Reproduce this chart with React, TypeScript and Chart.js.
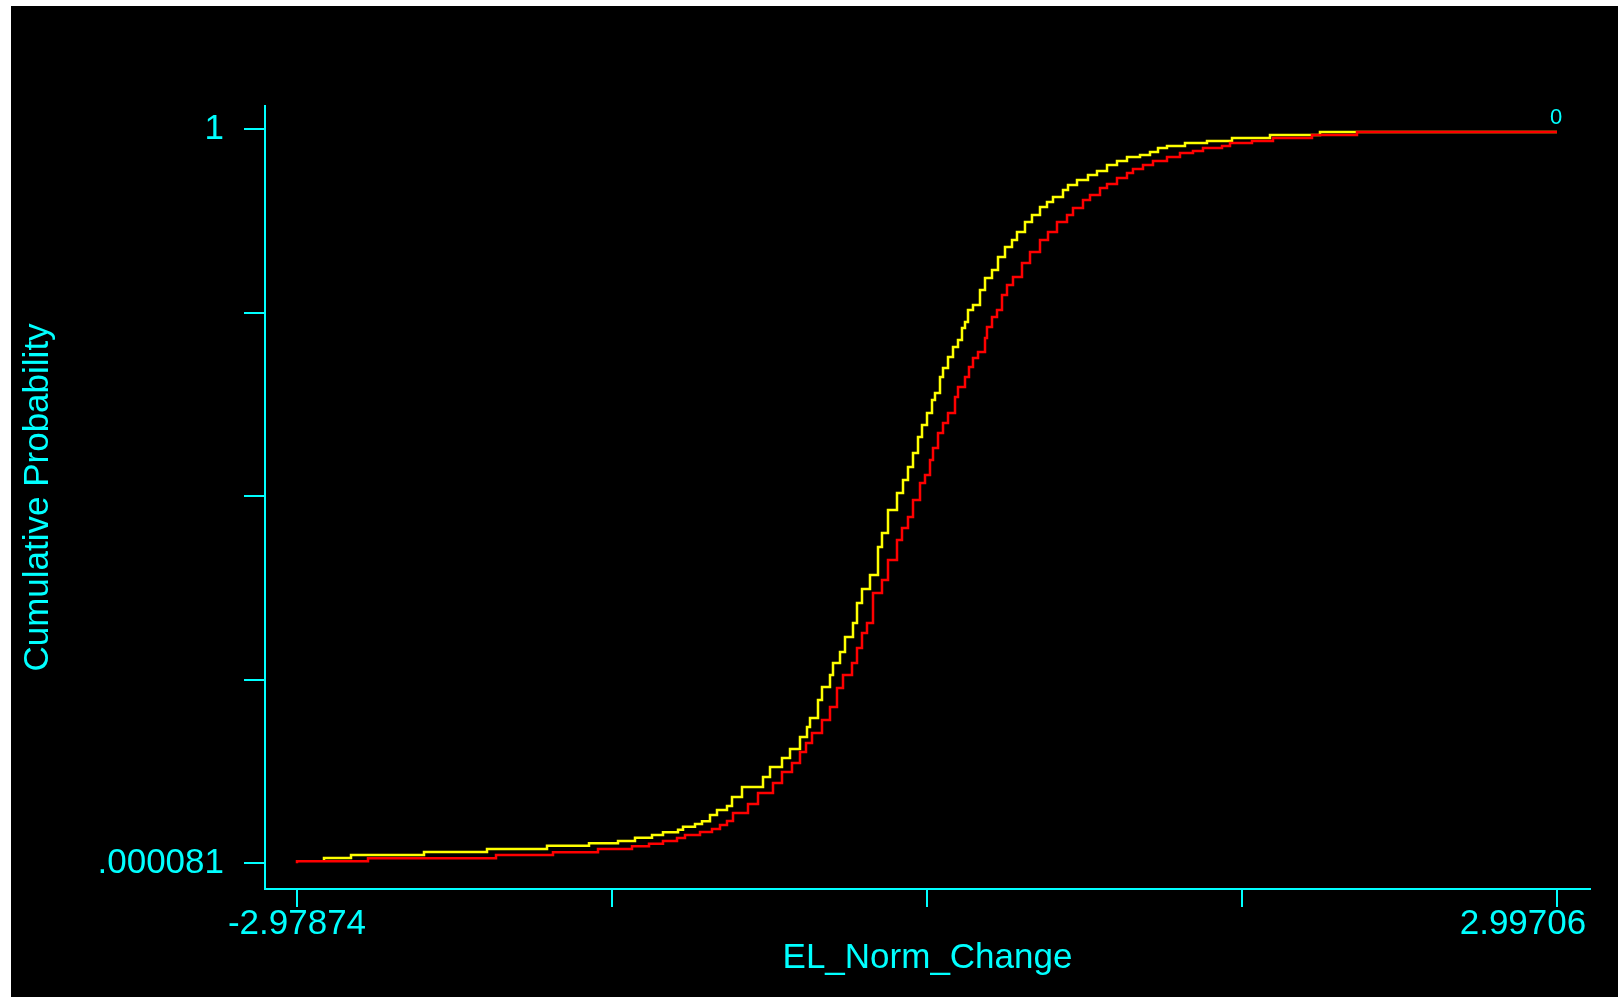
import React, { useEffect, useRef } from 'react';
import { Chart, registerables } from 'chart.js';

Chart.register(...registerables);

// ---- data ----
const RED_X = [
  -2.97874, -2.642, -2.0349, -1.7646, -1.5512, -1.3899, -1.3093, -1.2429, -1.1765, -1.1386,
  -1.0674, -1.0105, -0.9726, -0.9394, -0.9109, -0.8398, -0.7923, -0.7212, -0.6785, -0.6311,
  -0.5932, -0.5647, -0.5362, -0.4888, -0.4509, -0.4177, -0.3892, -0.3465, -0.3228, -0.2991,
  -0.2754, -0.2469, -0.2043, -0.1758, -0.1331, -0.1094, -0.081, -0.0572, -0.024, -0.0003,
  0.0234, 0.0376, 0.0614, 0.0851, 0.1088, 0.142, 0.1562, 0.1894, 0.2083, 0.2273,
  0.2511, 0.2843, 0.2937, 0.3175, 0.3412, 0.3649, 0.3886, 0.417, 0.4597, 0.4977,
  0.5451, 0.583, 0.6257, 0.6732, 0.7016, 0.749, 0.7822, 0.8297, 0.8629, 0.9103,
  0.9577, 0.9861, 1.0336, 1.081, 1.1474, 1.209, 1.2707, 1.3182, 1.4083, 1.4462,
  1.5505, 1.6501, 1.8351, 2.0485, 2.3805, 2.99706,
];
const RED_Y = [
  0.000081, 0.0028, 0.0069, 0.0114, 0.0151, 0.0196, 0.0232, 0.0268, 0.0305, 0.0346,
  0.0386, 0.0427, 0.0468, 0.0523, 0.0577, 0.0686, 0.0809, 0.0959, 0.1095, 0.1245,
  0.1367, 0.1517, 0.164, 0.1776, 0.1953, 0.213, 0.2389, 0.2566, 0.273, 0.2934,
  0.3139, 0.3275, 0.3684, 0.3861, 0.4133, 0.4406, 0.4569, 0.4719, 0.4951, 0.5182,
  0.5291, 0.5496, 0.5659, 0.5863, 0.6, 0.6136, 0.6354, 0.649, 0.6626, 0.6763,
  0.6885, 0.6967, 0.7158, 0.7308, 0.7444, 0.7539, 0.7744, 0.788, 0.7989, 0.8179,
  0.8329, 0.8493, 0.8602, 0.8738, 0.8833, 0.8929, 0.9038, 0.9106, 0.9201, 0.9256,
  0.9338, 0.9406, 0.946, 0.9515, 0.9569, 0.9624, 0.9678, 0.9705, 0.9746, 0.9773,
  0.9814, 0.9842, 0.9882, 0.9923, 0.9964, 0.9964,
];
const YELLOW_X = [
  -2.8507, -2.7226, -2.3764, -2.0776, -1.793, -1.5938, -1.4563, -1.3757, -1.295, -1.2429,
  -1.1717, -1.148, -1.0911, -1.0579, -1.02, -0.9868, -0.9394, -0.9156, -0.8682, -0.7686,
  -0.7354, -0.6785, -0.6405, -0.5932, -0.5599, -0.5457, -0.5078, -0.4888, -0.4509, -0.4366,
  -0.4034, -0.3797, -0.3418, -0.3228, -0.2991, -0.2612, -0.2232, -0.2043, -0.1758, -0.1331,
  -0.1046, -0.081, -0.0572, -0.0335, -0.0145, 0.0092, 0.0329, 0.0471, 0.0708, 0.0851,
  0.1088, 0.1325, 0.1562, 0.1751, 0.1894, 0.2036, 0.2273, 0.2605, 0.2843, 0.3175,
  0.3459, 0.3791, 0.4123, 0.436, 0.4739, 0.5071, 0.5451, 0.5783, 0.6067, 0.6542,
  0.6779, 0.7206, 0.7727, 0.8154, 0.8629, 0.9103, 0.9577, 1.0194, 1.0668, 1.1047,
  1.1474, 1.2327, 1.3371, 1.4557, 1.6359, 1.873, 2.262, 2.99706,
];
const YELLOW_Y = [
  0.0028, 0.0073, 0.0114, 0.0155, 0.0196, 0.0241, 0.0273, 0.0305, 0.035, 0.0386,
  0.0423, 0.0459, 0.05, 0.0536, 0.0573, 0.0659, 0.0727, 0.0782, 0.0904, 0.104,
  0.1177, 0.1313, 0.1435, 0.1558, 0.1722, 0.1858, 0.198, 0.2226, 0.2403, 0.2566,
  0.273, 0.288, 0.3084, 0.3275, 0.3547, 0.3738, 0.3929, 0.431, 0.4501, 0.4814,
  0.5046, 0.5223, 0.54, 0.5591, 0.5809, 0.5972, 0.6136, 0.6313, 0.6408, 0.6626,
  0.6749, 0.6899, 0.7035, 0.713, 0.7294, 0.7376, 0.7539, 0.7607, 0.7812, 0.7975,
  0.8084, 0.8261, 0.8397, 0.8493, 0.8602, 0.8738, 0.8833, 0.8942, 0.9011, 0.9079,
  0.9174, 0.9242, 0.931, 0.9378, 0.9433, 0.9515, 0.9569, 0.9624, 0.9651, 0.9692,
  0.9746, 0.9773, 0.9814, 0.9842, 0.9882, 0.9923, 0.9964, 0.9964,
];

const X_TICKS = [-2.97874, -1.48479, 0.00916, 1.50311, 2.99706];
const X_TICK_LABELS = ['-2.97874', '', '', '', '2.99706'];
const Y_TICKS = [0.000081, 0.25006, 0.50004, 0.75002, 1];
const Y_TICK_LABELS = ['.000081', '', '', '', '1'];
const X_TITLE = 'EL_Norm_Change';
const Y_TITLE = 'Cumulative Probability';
const END_LABEL = '0';
const X_RANGE = [-3.1305, 3.1536];
const Y_RANGE = [-0.0349, 1.0318];

const CYAN = '#00FFFF';
const FONT = '"Liberation Sans", Arial, sans-serif';

const endLabelPlugin = {
  id: 'endLabel',
  afterDatasetsDraw(chart: any) {
    const meta = chart.getDatasetMeta(0);
    const pts = meta.data;
    if (!pts || !pts.length) return;
    const last = pts[pts.length - 1];
    const ctx = chart.ctx;
    ctx.save();
    ctx.fillStyle = CYAN;
    ctx.font = `22px ${FONT}`;
    ctx.textAlign = 'center';
    ctx.textBaseline = 'bottom';
    ctx.fillText(END_LABEL, last.x - 1, last.y - 3);
    ctx.restore();
  },
};

export default function App() {
  const ref = useRef<HTMLCanvasElement | null>(null);

  useEffect(() => {
    if (!ref.current) return;
    const red = RED_X.map((x, i) => ({ x, y: RED_Y[i] }));
    const yellow = YELLOW_X.map((x, i) => ({ x, y: YELLOW_Y[i] }));
    const chart = new Chart(ref.current, {
      type: 'line',
      data: {
        datasets: [
          {
            data: red,
            borderColor: '#FF0000',
            borderWidth: 2.5,
            pointRadius: 0,
            stepped: 'after',
            fill: false,
          },
          {
            data: yellow,
            borderColor: '#FFFF00',
            borderWidth: 2.5,
            pointRadius: 0,
            stepped: 'after',
            fill: false,
          },
        ],
      },
      plugins: [endLabelPlugin],
      options: {
        responsive: false,
        animation: false,
        events: [],
        layout: { padding: { left: 0, top: 100, right: 28, bottom: 0 } },
        plugins: {
          legend: { display: false },
          tooltip: { enabled: false },
        },
        scales: {
          x: {
            type: 'linear',
            min: X_RANGE[0],
            max: X_RANGE[1],
            afterBuildTicks: (scale: any) => {
              scale.ticks = X_TICKS.map((v) => ({ value: v }));
            },
            afterFit: (scale: any) => {
              scale.height = 108;
              scale.paddingLeft = 0;
              scale.paddingRight = 0;
            },
            ticks: {
              autoSkip: false,
              maxRotation: 0,
              minRotation: 0,
              color: CYAN,
              padding: -4,
              font: { family: FONT, size: 35 },
              callback: (_v: any, i: number) =>
                i === X_TICK_LABELS.length - 1 ? X_TICK_LABELS[i] + '       ' : X_TICK_LABELS[i],
            },
            grid: {
              drawOnChartArea: false,
              drawTicks: true,
              tickLength: 18,
              color: CYAN,
              lineWidth: 2,
            },
            border: { display: true, color: CYAN, width: 2 },
            title: {
              display: true,
              text: X_TITLE,
              color: CYAN,
              font: { family: FONT, size: 35 },
              padding: { top: 0, bottom: 18 },
            },
          },
          y: {
            type: 'linear',
            min: Y_RANGE[0],
            max: Y_RANGE[1],
            afterBuildTicks: (scale: any) => {
              scale.ticks = Y_TICKS.map((v) => ({ value: v }));
            },
            afterFit: (scale: any) => {
              scale.width = 254;
              scale.paddingTop = 0;
              scale.paddingBottom = 0;
            },
            ticks: {
              autoSkip: false,
              color: CYAN,
              padding: 20,
              font: { family: FONT, size: 35 },
              callback: (_v: any, i: number) => Y_TICK_LABELS[i],
            },
            grid: {
              drawOnChartArea: false,
              drawTicks: true,
              tickLength: 21,
              color: CYAN,
              lineWidth: 2,
            },
            border: { display: true, color: CYAN, width: 2 },
            title: {
              display: true,
              text: Y_TITLE,
              color: CYAN,
              font: { family: FONT, size: 35 },
              padding: { top: 6, bottom: 0 },
            },
          },
        },
      },
    } as any);
    return () => chart.destroy();
  }, []);

  return (
    <div
      style={{
        position: 'fixed',
        left: 11,
        top: 6,
        width: 1607,
        height: 991,
        background: '#000000',
      }}
    >
      <canvas ref={ref} width={1607} height={991} style={{ display: 'block' }} />
    </div>
  );
}
